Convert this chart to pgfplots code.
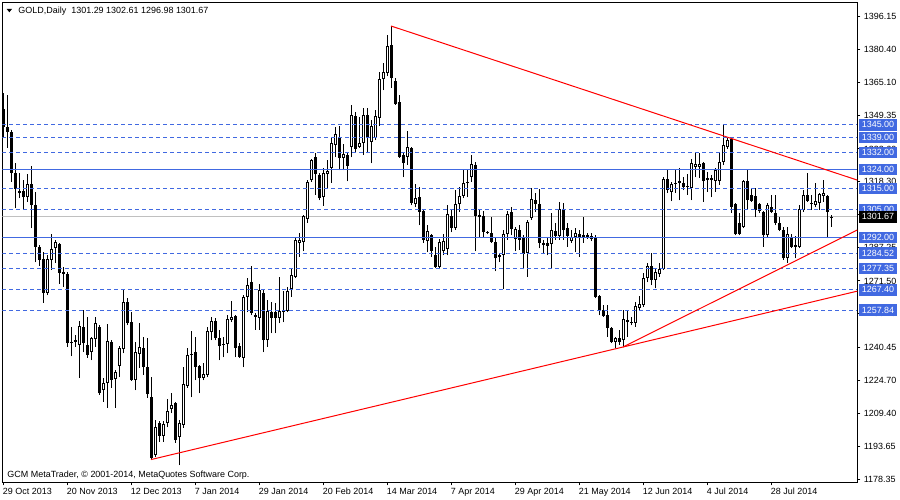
\documentclass[border=0pt]{standalone}
\usepackage{fontspec}
\setmainfont{Liberation Sans}
\usepackage{pgfplots}
\usepackage{pgfplotstable}
\pgfplotsset{compat=1.18}
\definecolor{mtblue}{RGB}{65,105,225}
\definecolor{mtgrey}{RGB}{192,192,192}
\definecolor{mtred}{RGB}{255,0,0}
% bearish candles: index open high low close
\pgfplotstableread{
i o h l c
0 1352.4 1359.9 1339.2 1343.9
1 1343.9 1359.0 1334.1 1341.6
2 1341.6 1342.5 1318.1 1322.3
3 1322.3 1327.0 1305.8 1314.8
4 1313.8 1322.3 1310.5 1312.9
5 1313.8 1319.0 1304.9 1311.0
7 1317.1 1325.6 1296.4 1307.2
8 1307.2 1313.4 1280.4 1287.5
9 1287.5 1288.4 1278.6 1281.4
10 1281.8 1285.1 1261.2 1265.9
14 1288.9 1289.4 1270.1 1275.3
15 1275.7 1278.1 1268.7 1274.8
16 1274.8 1275.7 1240.5 1242.3
17 1242.8 1249.9 1236.2 1242.3
18 1243.7 1246.1 1240.5 1242.8
20 1249.9 1257.9 1238.1 1242.3
21 1241.4 1254.6 1235.3 1236.7
24 1249.9 1250.8 1217.9 1218.8
27 1242.8 1243.7 1221.2 1224.9
31 1261.6 1263.5 1250.8 1251.7
32 1252.2 1256.9 1224.5 1224.9
35 1240.0 1245.2 1227.3 1231.0
36 1231.0 1244.7 1216.5 1218.3
37 1216.9 1226.3 1187.5 1188.2
39 1204.7 1205.6 1195.8 1198.6
43 1214.1 1214.6 1195.3 1196.7
47 1237.2 1248.0 1216.9 1236.7
48 1238.1 1245.2 1224.9 1231.0
49 1231.5 1232.0 1218.8 1225.9
53 1252.7 1254.1 1243.7 1244.7
54 1244.7 1248.5 1234.3 1240.9
55 1241.9 1245.2 1235.7 1241.4
58 1255.0 1255.5 1235.7 1240.0
59 1240.9 1242.3 1235.3 1235.7
62 1271.0 1278.6 1255.5 1256.4
65 1265.9 1267.3 1238.1 1243.7
67 1256.9 1261.6 1247.0 1254.1
68 1256.9 1261.2 1247.0 1254.1
78 1329.8 1331.7 1312.0 1321.8
79 1321.4 1322.3 1309.6 1310.5
84 1339.2 1344.4 1323.7 1329.4
86 1330.8 1332.2 1318.5 1325.6
88 1349.1 1351.0 1332.2 1333.6
91 1349.6 1352.9 1331.7 1339.2
97 1382.5 1391.45 1362.3 1367.0
98 1365.6 1367.0 1354.3 1354.8
99 1355.7 1359.0 1329.4 1329.8
100 1330.8 1332.2 1320.4 1327.0
102 1334.1 1334.5 1307.2 1308.2
104 1311.0 1315.7 1297.8 1304.0
105 1304.4 1304.9 1289.4 1290.8
107 1293.1 1293.6 1282.8 1285.6
108 1283.7 1287.5 1277.6 1278.1
112 1302.1 1304.9 1294.5 1296.4
118 1326.1 1327.5 1285.6 1302.1
119 1302.5 1304.9 1292.2 1301.6
120 1302.1 1304.4 1292.2 1294.5
121 1294.5 1295.0 1293.6 1294.1
122 1294.1 1301.6 1289.4 1289.8
123 1289.8 1292.2 1276.2 1282.3
124 1283.7 1284.7 1280.4 1282.8
127 1304.0 1306.3 1293.1 1296.0
129 1295.5 1297.8 1286.1 1290.8
130 1292.2 1293.1 1277.1 1284.2
133 1309.6 1312.9 1304.0 1307.7
134 1307.7 1314.8 1287.0 1289.4
135 1289.4 1290.8 1284.7 1288.4
136 1289.4 1292.2 1283.7 1288.0
138 1295.0 1298.8 1290.8 1292.7
140 1304.9 1308.2 1290.8 1295.5
141 1296.4 1298.8 1287.5 1292.7
144 1293.6 1295.5 1282.8 1291.7
145 1293.1 1301.6 1289.4 1291.7
146 1293.1 1294.1 1291.3 1291.7
148 1292.2 1293.1 1263.5 1264.0
149 1264.4 1264.9 1255.5 1257.9
150 1257.9 1260.2 1254.6 1255.0
151 1255.5 1260.2 1245.2 1249.4
152 1249.4 1249.9 1242.3 1242.8
154 1244.7 1248.5 1241.4 1242.8
156 1253.2 1257.4 1245.2 1252.2
157 1252.2 1254.6 1250.8 1251.7
162 1278.6 1284.7 1269.6 1272.0
166 1319.5 1323.7 1312.9 1314.3
168 1317.6 1323.7 1312.9 1317.1
170 1317.6 1320.4 1314.3 1315.7
171 1316.2 1321.8 1312.0 1315.7
175 1327.0 1327.5 1308.7 1318.5
176 1320.0 1322.8 1313.4 1319.0
177 1320.0 1321.4 1311.0 1319.0
182 1338.3 1338.8 1303.5 1306.3
183 1307.7 1308.2 1293.1 1293.6
184 1298.8 1303.5 1293.1 1293.6
186 1318.5 1324.2 1304.9 1309.6
187 1312.0 1315.2 1308.7 1309.1
188 1311.5 1315.2 1301.6 1304.9
189 1307.7 1308.2 1303.5 1304.4
190 1304.0 1304.4 1287.5 1293.1
192 1306.3 1312.0 1303.5 1304.0
193 1303.5 1312.0 1297.8 1298.8
194 1298.8 1301.6 1295.0 1295.5
195 1295.5 1296.9 1281.4 1282.3
197 1292.2 1293.6 1287.0 1287.5
201 1312.0 1322.3 1308.7 1309.1
202 1308.2 1312.0 1304.9 1307.7
206 1311.5 1312.0 1291.7 1304.0
}\bear
% bullish candles: index open high low close
\pgfplotstableread{
i o h l c
6 1311.0 1321.8 1308.7 1317.1
11 1265.9 1283.7 1264.9 1281.8
12 1281.4 1293.6 1276.7 1286.5
13 1287.0 1290.8 1280.0 1289.8
19 1241.4 1252.7 1225.9 1250.3
22 1238.1 1245.2 1234.3 1244.7
23 1244.2 1254.6 1240.5 1251.7
25 1220.2 1225.9 1214.6 1223.5
26 1223.5 1251.3 1211.8 1243.3
28 1225.4 1229.6 1211.8 1228.7
29 1231.5 1240.9 1226.3 1240.0
30 1239.5 1267.7 1237.6 1261.6
33 1224.9 1242.8 1220.2 1238.1
34 1237.2 1251.7 1230.6 1240.5
38 1189.6 1206.1 1188.7 1202.8
40 1198.6 1205.6 1195.8 1204.2
41 1204.7 1216.0 1202.8 1210.3
42 1211.3 1218.8 1209.4 1213.2
44 1198.1 1206.1 1184.9 1204.7
45 1203.8 1231.0 1202.4 1223.0
46 1222.1 1240.0 1221.2 1236.7
50 1225.9 1232.9 1224.9 1227.7
51 1227.3 1249.9 1226.3 1248.0
52 1247.5 1254.6 1243.7 1252.7
56 1241.9 1255.5 1237.6 1253.6
57 1253.2 1262.1 1252.2 1254.6
60 1235.3 1264.9 1231.0 1264.0
61 1264.0 1272.9 1256.9 1269.6
63 1254.6 1256.4 1248.5 1255.5
64 1254.1 1270.1 1248.5 1267.3
66 1243.7 1262.6 1240.5 1257.4
69 1254.1 1273.4 1251.7 1257.4
70 1256.9 1266.8 1252.2 1257.4
71 1257.4 1268.7 1256.9 1266.8
72 1267.7 1277.6 1264.0 1274.3
73 1273.4 1292.2 1272.9 1290.8
74 1289.4 1294.1 1282.8 1290.8
75 1289.8 1302.5 1285.6 1302.1
76 1300.7 1319.0 1298.8 1318.1
77 1319.0 1328.9 1318.1 1328.4
80 1311.0 1324.7 1306.8 1322.3
81 1321.8 1328.4 1315.2 1323.2
82 1324.7 1338.8 1317.6 1336.4
83 1335.5 1343.9 1329.8 1340.6
85 1329.4 1335.9 1323.7 1331.2
87 1334.5 1354.3 1329.8 1349.6
89 1334.5 1348.6 1334.1 1336.4
90 1336.4 1352.9 1330.8 1349.6
92 1336.9 1347.2 1327.0 1344.4
93 1338.8 1351.9 1337.8 1349.1
94 1348.2 1369.8 1344.4 1366.5
95 1366.5 1374.0 1361.3 1369.8
96 1369.3 1387.2 1367.9 1382.0
101 1329.8 1342.1 1326.1 1334.5
103 1307.7 1317.1 1306.3 1310.5
106 1290.3 1297.8 1285.1 1295.0
109 1278.1 1291.3 1277.1 1289.8
110 1285.6 1293.6 1283.7 1290.3
111 1286.5 1307.2 1283.7 1303.0
113 1296.4 1314.3 1295.5 1307.7
114 1307.7 1315.7 1304.0 1311.5
115 1311.5 1324.2 1310.5 1317.6
116 1317.6 1324.2 1311.0 1318.1
117 1320.4 1330.8 1318.1 1326.5
125 1283.7 1295.5 1267.7 1293.6
126 1293.6 1304.4 1290.8 1303.0
128 1291.3 1296.9 1285.6 1296.0
131 1284.7 1300.2 1273.4 1299.2
132 1301.1 1315.2 1300.2 1310.1
137 1288.9 1303.5 1277.6 1295.5
139 1292.7 1308.7 1290.8 1305.4
142 1290.3 1295.5 1289.4 1292.2
143 1292.2 1296.4 1285.1 1294.1
147 1291.3 1294.1 1290.3 1292.7
153 1242.8 1245.2 1240.0 1244.7
155 1243.7 1257.9 1240.45 1253.6
158 1251.7 1261.6 1249.9 1259.7
159 1258.8 1264.4 1257.4 1260.7
160 1260.2 1275.3 1259.3 1272.9
161 1272.9 1280.0 1271.0 1278.6
163 1272.0 1277.6 1268.2 1275.7
164 1274.8 1280.0 1273.4 1277.1
165 1277.1 1320.4 1276.7 1319.5
167 1313.4 1318.1 1309.1 1317.1
169 1317.6 1324.7 1309.6 1318.5
172 1315.2 1328.9 1309.6 1327.0
173 1325.1 1332.2 1320.4 1326.5
174 1325.1 1331.7 1320.0 1326.5
178 1318.5 1324.7 1313.4 1323.7
179 1318.5 1331.7 1316.7 1327.5
180 1327.5 1344.9 1326.1 1335.5
181 1334.5 1338.8 1333.6 1337.8
185 1296.9 1319.0 1296.4 1318.5
191 1293.1 1308.2 1292.2 1307.2
196 1282.3 1296.9 1280.0 1293.6
198 1287.5 1292.7 1282.3 1288.4
199 1287.5 1307.2 1287.0 1305.4
200 1304.9 1314.3 1304.0 1312.0
203 1307.2 1317.6 1306.3 1309.1
204 1308.2 1312.9 1304.9 1312.4
205 1311.5 1319.0 1308.7 1312.9
207 1301.29 1302.61 1296.98 1301.67
}\bull
\tikzset{
  lvl/.style={anchor=west, fill=mtblue, text=white, inner sep=0pt, minimum width=38bp,
    minimum height=11.7bp, xshift=1.5bp, font=\fontsize{9}{10.8}\selectfont}
}
\pgfplotsset{
  candle/.style={only marks, mark=*, mark size=0pt, mark options={draw=none, fill=none},
    error bars/.cd, y dir=plus, y explicit, error mark=none},
  level/.style={draw=mtblue, line width=1bp, mark=none},
  dlevel/.style={draw=mtblue, line width=1bp, mark=none, dash pattern=on 4bp off 3bp}
}
\begin{document}
\begin{tikzpicture}[font=\fontsize{9}{10.8}\selectfont]
\fill[white] (0,0) rectangle (900bp,500bp);
\begin{axis}[
  at={(2.3bp,17.7bp)}, anchor=south west,
  width=855bp, height=479.6bp, scale only axis,
  xmin=-0.175, xmax=213.575, ymin=1176.81, ymax=1402.41,
  axis line style={line width=1bp, black},
  tick align=outside, major tick length=3bp,
  every tick/.style={black, line width=1bp},
  xtick pos=left, ytick pos=right, yticklabel pos=right,
  xtick={0,16,32,48,64,80,96,112,128,144,160,176,192},
  xticklabels={29 Oct 2013,20 Nov 2013,12 Dec 2013,7 Jan 2014,29 Jan 2014,20 Feb 2014,14 Mar 2014,7 Apr 2014,29 Apr 2014,21 May 2014,12 Jun 2014,4 Jul 2014,28 Jul 2014},
  ytick={1178.35,1193.65,1209.40,1224.70,1240.45,1256.20,1271.50,1287.25,1302.55,1318.30,1333.60,1349.35,1365.10,1380.40,1396.15},
  yticklabels={1178.35,1193.65,1209.40,1224.70,1240.45,1256.20,1271.50,1287.25,1302.55,1318.30,1333.60,1349.35,1365.10,1380.40,1396.15},
  ticklabel style={font=\fontsize{9}{10.8}\selectfont, inner sep=0pt},
  xticklabel style={anchor=north west, xshift=-0.3bp, yshift=-3bp},
  yticklabel style={anchor=west, xshift=3.4bp},
]
% bid line
\addplot[draw=mtgrey, line width=1bp, mark=none] coordinates {(-0.175,1301.67) (213.575,1301.67)};
% wicks
\addplot[candle, error bar style={line width=1bp, black}]
  table[x=i, y=l, y error plus expr=\thisrow{h}-\thisrow{l}] {\bear};
\addplot[candle, error bar style={line width=1bp, black}]
  table[x=i, y=l, y error plus expr=\thisrow{h}-\thisrow{l}] {\bull};
% bodies
\addplot[candle, error bar style={line width=3bp, black}]
  table[x=i, y=c, y error plus expr={max(\thisrow{o}-\thisrow{c},0.5)}] {\bear};
\addplot[candle, error bar style={line width=3bp, black}]
  table[x=i, y=o, y error plus expr={max(\thisrow{c}-\thisrow{o},0.5)}] {\bull};
\addplot[candle, error bar style={line width=1bp, white}]
  table[x=i, y expr=\thisrow{o}+0.47, y error plus expr={max(\thisrow{c}-\thisrow{o}-0.94,0)}] {\bull};
% horizontal levels
\addplot[level] coordinates {(-0.175,1324) (213.575,1324)};
\addplot[level] coordinates {(-0.175,1292) (213.575,1292)};
\addplot[dlevel] coordinates {(-0.175,1345) (213.575,1345)};
\addplot[dlevel] coordinates {(-0.175,1339) (213.575,1339)};
\addplot[dlevel] coordinates {(-0.175,1332) (213.575,1332)};
\addplot[dlevel] coordinates {(-0.175,1315) (213.575,1315)};
\addplot[dlevel] coordinates {(-0.175,1305) (213.575,1305)};
\addplot[dlevel] coordinates {(-0.175,1284.52) (213.575,1284.52)};
\addplot[dlevel] coordinates {(-0.175,1277.35) (213.575,1277.35)};
\addplot[dlevel] coordinates {(-0.175,1267.40) (213.575,1267.40)};
\addplot[dlevel] coordinates {(-0.175,1257.84) (213.575,1257.84)};
% trend lines
\addplot[draw=mtred, line width=1bp, mark=none] coordinates {(97,1391.45) (213.575,1318.96)};
\addplot[draw=mtred, line width=1bp, mark=none] coordinates {(37,1187.5) (213.575,1266.73)};
\addplot[draw=mtred, line width=1bp, mark=none] coordinates {(155,1240.45) (213.575,1295.49)};
% anchors of the price labels on the right scale
\coordinate (L1345) at (axis cs:213.575,1345);
\coordinate (L1339) at (axis cs:213.575,1339);
\coordinate (L1332) at (axis cs:213.575,1332);
\coordinate (L1324) at (axis cs:213.575,1324);
\coordinate (L1315) at (axis cs:213.575,1315);
\coordinate (L1305) at (axis cs:213.575,1305);
\coordinate (LBid) at (axis cs:213.575,1301.67);
\coordinate (L1292) at (axis cs:213.575,1292);
\coordinate (L1284) at (axis cs:213.575,1284.52);
\coordinate (L1277) at (axis cs:213.575,1277.35);
\coordinate (L1267) at (axis cs:213.575,1267.40);
\coordinate (L1257) at (axis cs:213.575,1257.84);
\end{axis}
\node[lvl] at (L1345) {1345.00};
\node[lvl] at (L1339) {1339.00};
\node[lvl] at (L1332) {1332.00};
\node[lvl] at (L1324) {1324.00};
\node[lvl] at (L1315) {1315.00};
\node[lvl] at (L1305) {1305.00};
\node[lvl, fill=black] at (LBid) {1301.67};
\node[lvl] at (L1292) {1292.00};
\node[lvl] at (L1284) {1284.52};
\node[lvl] at (L1277) {1277.35};
\node[lvl] at (L1267) {1267.40};
\node[lvl] at (L1257) {1257.84};
\fill[black] (6.7bp,491bp) -- (12bp,491bp) -- (9.35bp,487.7bp) -- cycle;
\node[anchor=base west, inner sep=0pt] at (18.3bp,486bp) {GOLD,Daily\hspace{5bp}1301.29 1302.61 1296.98 1301.67};
\node[anchor=base west, inner sep=0pt] at (7.3bp,22.7bp) {GCM MetaTrader, © 2001-2014, MetaQuotes Software Corp.};
\pgfresetboundingbox
\path[use as bounding box] (0,0) rectangle (900bp,500bp);
\end{tikzpicture}
\end{document}
